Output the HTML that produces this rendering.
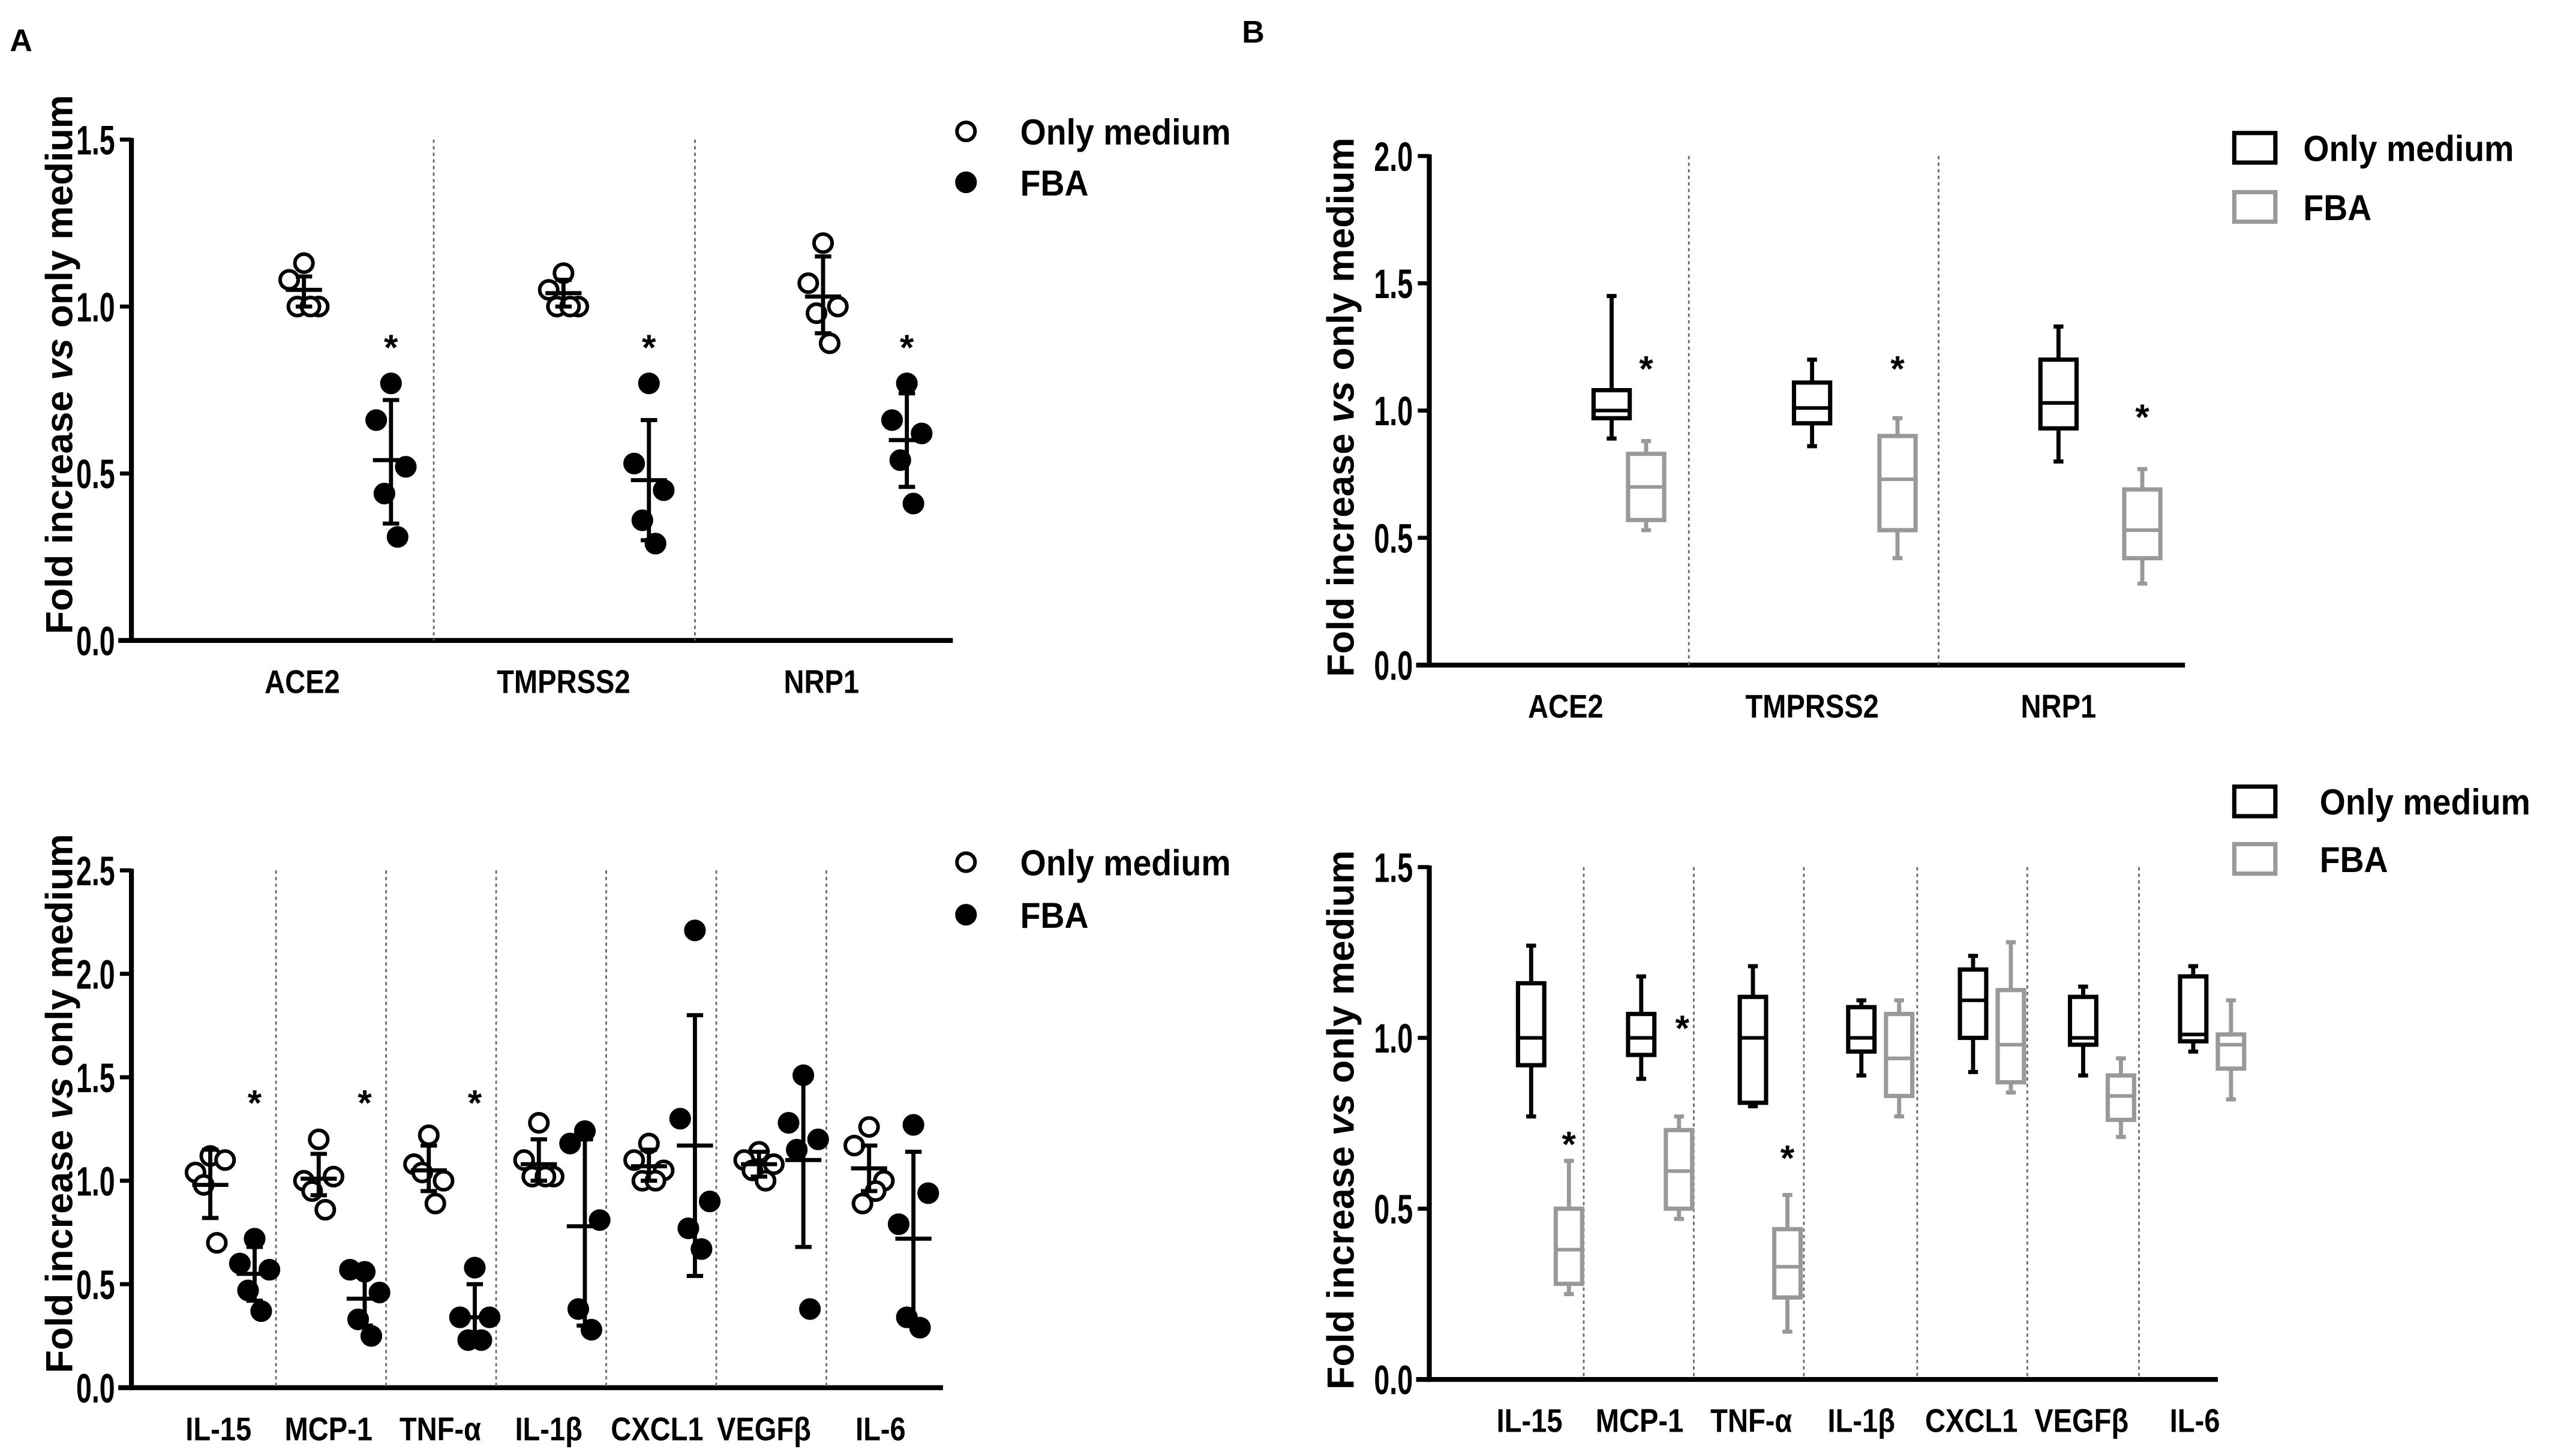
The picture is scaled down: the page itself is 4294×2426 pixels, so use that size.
<!DOCTYPE html>
<html><head><meta charset="utf-8">
<style>
html,body{margin:0;padding:0;background:#fff;}
svg{display:block;}
text{font-family:"Liberation Sans",Arial,sans-serif;font-weight:bold;fill:#000;}
</style></head>
<body>
<svg id="fig" width="4294" height="2426" viewBox="0 0 1568 886" preserveAspectRatio="none" xmlns="http://www.w3.org/2000/svg">
<rect width="1568" height="886" fill="#fff"/>
<text x="6" y="31" font-size="19">A</text>
<text x="756" y="26" font-size="19">B</text>
</svg>
<script>
// ---------- DATA ----------
const catsTop = ["ACE2","TMPRSS2","NRP1"];
const catsBot = ["IL-15","MCP-1","TNF-α","IL-1β","CXCL1","VEGFβ","IL-6"];
// Panel A top (dot plots)
const aTopOpen = [[1.13,1.08,1.0,1.0,1.0],[1.10,1.05,1.0,1.0,1.0],[1.19,1.07,1.0,0.98,0.89]];
const aTopFilled = [[0.77,0.66,0.52,0.44,0.31],[0.77,0.53,0.45,0.36,0.29],[0.77,0.66,0.62,0.54,0.41]];
const aTopOpenMean = [1.05,1.04,1.03];
const aTopOpenErr = [[1.0,1.09],[1.0,1.08],[0.92,1.15]];
const aTopFilledMean = [0.54,0.48,0.60];
const aTopFilledErr = [[0.35,0.72],[0.30,0.66],[0.46,0.74]];
const aTopStar = [true,true,true];
// Panel A bottom
const aBotOpen = [[1.12,1.04,1.10,0.98,0.70],[1.20,1.00,1.02,0.95,0.86],[1.22,1.08,1.00,1.04,0.89],[1.28,1.10,1.02,1.02,1.02],[1.18,1.10,1.05,1.00,1.00],[1.14,1.10,1.08,1.05,1.00],[1.26,1.17,1.00,0.89,0.95]];
const aBotFilled = [[0.72,0.60,0.57,0.47,0.37],[0.56,0.57,0.46,0.33,0.25],[0.58,0.34,0.34,0.23,0.23],[1.24,1.18,0.81,0.38,0.28],[2.21,1.30,0.90,0.77,0.67],[1.51,1.28,1.20,1.15,0.38],[1.27,0.79,0.94,0.34,0.29]];
const aBotOpenMean = [0.98,1.01,1.05,1.08,1.07,1.08,1.06];
const aBotOpenErr = [[0.82,1.15],[0.93,1.13],[0.95,1.17],[1.0,1.2],[1.0,1.15],[1.02,1.14],[0.95,1.17]];
const aBotFilledMean = [0.55,0.43,0.34,0.78,1.17,1.10,0.72];
const aBotFilledErr = [[0.42,0.68],[0.30,0.58],[0.22,0.50],[0.30,1.20],[0.54,1.80],[0.68,1.51],[0.30,1.14]];
const aBotStar = [true,true,true,false,false,false,false];
// Panel B top boxes [min,q1,med,q3,max]
const bTopBlack = [[0.89,0.97,1.0,1.08,1.45],[0.86,0.95,1.01,1.11,1.20],[0.80,0.93,1.03,1.20,1.33]];
const bTopGray = [[0.53,0.57,0.70,0.83,0.88],[0.42,0.53,0.73,0.90,0.97],[0.32,0.42,0.53,0.69,0.77]];
const bTopStarY = [1.18,1.18,0.99];
// Panel B bottom boxes
const bBotBlack = [[0.77,0.92,1.00,1.16,1.27],[0.88,0.95,1.00,1.07,1.18],[0.80,0.81,1.00,1.12,1.21],[0.89,0.96,1.00,1.09,1.11],[0.90,1.00,1.11,1.20,1.24],[0.89,0.98,1.00,1.12,1.15],[0.96,0.99,1.01,1.18,1.21]];
const bBotGray = [[0.25,0.28,0.38,0.50,0.64],[0.47,0.50,0.61,0.73,0.77],[0.14,0.24,0.33,0.44,0.54],[0.77,0.83,0.94,1.07,1.11],[0.84,0.87,0.98,1.14,1.28],[0.71,0.76,0.83,0.89,0.94],[0.82,0.91,0.98,1.01,1.11]];
const bBotStarY = [0.70,1.04,0.66,null,null,null,null];
const bBotStarOn = ["gray","black","gray",null,null,null,null];
const ticksTop = [0,0.5,1.0,1.5];
const ticksTopLbl = ["0.0","0.5","1.0","1.5"];
const ticksABot = [0,0.5,1.0,1.5,2.0,2.5];
const ticksABotLbl = ["0.0","0.5","1.0","1.5","2.0","2.5"];
const ticksBTop = [0,0.5,1.0,1.5,2.0];
const ticksBTopLbl = ["0.0","0.5","1.0","1.5","2.0"];

// ---------- DRAW ----------
const NS="http://www.w3.org/2000/svg";
const svg=document.getElementById('fig');
function mk(tag,attrs,parent){const e=document.createElementNS(NS,tag);for(const k in attrs)e.setAttribute(k,attrs[k]);(parent||svg).appendChild(e);return e;}
function panel(p){
  const g=mk('g',{});
  
  
  const y=v=>p.y0-(v/p.vmax)*(p.y0-p.y1);
  p.yf=y;
  const ya=mk('line',{x1:p.x0,y1:p.y1-1,x2:p.x0,y2:p.y0+1.5,stroke:'#000','stroke-width':3},g);
  
  
  const xa=mk('line',{x1:p.x0-8,y1:p.y0,x2:p.xEnd,y2:p.y0,stroke:'#000','stroke-width':3},g);
  
  
  p.ticks.forEach((t,i)=>{
    mk('line',{x1:p.x0-7,y1:y(t),x2:p.x0,y2:y(t),stroke:'#000','stroke-width':2.5},g);
    const ax=p.x0-10;
    const tx=mk('text',{x:0,y:0,'font-size':25,'text-anchor':'end',transform:`translate(${ax},${y(t)+9}) scale(0.68,1)`},g);
    tx.textContent=p.tickLbl[i];
    
    
  });
  p.dividers.forEach(dx=>{
    const d=mk('line',{x1:dx,y1:p.y1,x2:dx,y2:p.y0,stroke:'#666','stroke-width':1,'stroke-dasharray':'2,2'},g);
    
    
  });
  p.cats.forEach((c,i)=>{
    const t=mk('text',{x:0,y:0,'font-size':20,'text-anchor':'middle',transform:`translate(${p.labelX[i]},${p.y0+32}) scale(0.86,1)`},g);
    t.textContent=c;
    
    
  });
  const yt=mk('text',{x:0,y:0,'font-size':23,'text-anchor':'middle',transform:`translate(${p.titleX},${p.titleY}) rotate(-90)`},g);
  yt.innerHTML='Fold increase <tspan font-style="italic">vs</tspan> only medium';
  
  
  return g;
}
const jit=[0,-9,9,-4,4];
function dots(p,g,vals,means,errs,xs,filled){
  vals.forEach((arr,i)=>{
    const cx=xs[i];
    arr.forEach((v,j)=>{
      const c=mk('circle',{cx:cx+jit[j],cy:p.yf(v),r:5.5,fill:filled?'#000':'#fff',stroke:'#000','stroke-width':2.2},g);
      
      
    });
    const e=errs[i];
    const eb=mk('line',{x1:cx,y1:p.yf(e[0]),x2:cx,y2:p.yf(e[1]),stroke:'#000','stroke-width':2.5},g);
    
    
    [e[0],e[1]].forEach(v=>mk('line',{x1:cx-5,y1:p.yf(v),x2:cx+5,y2:p.yf(v),stroke:'#000','stroke-width':2.5},g));
    const m=mk('line',{x1:cx-11,y1:p.yf(means[i]),x2:cx+11,y2:p.yf(means[i]),stroke:'#000','stroke-width':2.5},g);
    
    
  });
}
function star(g,x,yy){
  const s=mk('text',{x:x,y:yy,'font-size':22,'text-anchor':'middle','font-weight':'normal'},g);
  s.textContent='*';
  
  
}
function boxes(p,g,data,xs,color,w){
  data.forEach((b,i)=>{
    const cx=xs[i];
    const bg=mk('g',{},g);
    
    
    mk('line',{x1:cx,y1:p.yf(b[0]),x2:cx,y2:p.yf(b[4]),stroke:color,'stroke-width':2.5},bg);
    mk('line',{x1:cx-3,y1:p.yf(b[0]),x2:cx+3,y2:p.yf(b[0]),stroke:color,'stroke-width':2.5},bg);
    mk('line',{x1:cx-3,y1:p.yf(b[4]),x2:cx+3,y2:p.yf(b[4]),stroke:color,'stroke-width':2.5},bg);
    mk('rect',{x:cx-w/2,y:p.yf(b[3]),width:w,height:p.yf(b[1])-p.yf(b[3]),fill:'#fff',stroke:color,'stroke-width':2.6},bg);
    mk('line',{x1:cx-w/2,y1:p.yf(b[2]),x2:cx+w/2,y2:p.yf(b[2]),stroke:color,'stroke-width':2.2},bg);
  });
}
function legendText(g,x,y,s){
  const t=mk('text',{x:0,y:0,'font-size':22,transform:`translate(${x},${y}) scale(0.92,1)`},g);t.textContent=s;
  
  
}
function legendDots(x,y1,y2){
  const g=mk('g',{});
  
  
  mk('circle',{cx:x,cy:y1,r:5.5,fill:'#fff',stroke:'#000','stroke-width':2.2},g);
  mk('circle',{cx:x,cy:y2,r:5.5,fill:'#000',stroke:'#000','stroke-width':2.2},g);
  legendText(g,x+33,y1+8,'Only medium');
  legendText(g,x+33,y2+8,'FBA');
}
function legendBoxes(x,y1,y2,tx){
  const g=mk('g',{});
  
  
  mk('rect',{x:x,y:y1-9,width:25,height:18,fill:'#fff',stroke:'#000','stroke-width':2.6},g);
  mk('rect',{x:x,y:y2-9,width:25,height:18,fill:'#fff',stroke:'#999','stroke-width':2.6},g);
  legendText(g,tx,y1+8,'Only medium');
  legendText(g,tx,y2+8,'FBA');
}

// Panel A top
const pAT={name:'panel-a-top-chart',x0:80,xEnd:580,y0:390,y1:85,vmax:1.5,ticks:ticksTop,tickLbl:ticksTopLbl,dividers:[264,423],cats:catsTop,labelX:[184,343,500],titleX:44,titleY:222};
let g=panel(pAT);
dots(pAT,g,aTopOpen,aTopOpenMean,aTopOpenErr,[185,343,501],false);
dots(pAT,g,aTopFilled,aTopFilledMean,aTopFilledErr,[238,395,552],true);
[238,395,552].forEach((x,i)=>{if(aTopStar[i])star(g,x,pAT.yf(0.88)+8);});
legendDots(588,80,111);

// Panel A bottom
const pAB={name:'panel-a-bottom-chart',x0:80,xEnd:574,y0:845,y1:530,vmax:2.5,ticks:ticksABot,tickLbl:ticksABotLbl,dividers:[168,235,302,369,436,503],cats:catsBot,labelX:[133,200,268,334,400,465,536],titleX:44,titleY:672};
g=panel(pAB);
const abo=[128,194,261,328,395,462,529], abf=[155,222,289,356,423,489,556];
dots(pAB,g,aBotOpen,aBotOpenMean,aBotOpenErr,abo,false);
dots(pAB,g,aBotFilled,aBotFilledMean,aBotFilledErr,abf,true);
abf.forEach((x,i)=>{if(aBotStar[i])star(g,x,pAB.yf(1.38)+8);});
legendDots(588,525,557);

// Panel B top
const pBT={name:'panel-b-top-chart',x0:870,xEnd:1330,y0:405,y1:95,vmax:2.0,ticks:ticksBTop,tickLbl:ticksBTopLbl,dividers:[1028,1180],cats:catsTop,labelX:[953,1103,1253],titleX:824,titleY:248};
g=panel(pBT);
boxes(pBT,g,bTopBlack,[981,1103,1253],'#000',22);
boxes(pBT,g,bTopGray,[1002,1155,1304],'#999',22);
[1002,1155,1304].forEach((x,i)=>star(g,x,pBT.yf(bTopStarY[i])+10));
legendBoxes(1360,90,126,1402);

// Panel B bottom
const pBB={name:'panel-b-bottom-chart',x0:870,xEnd:1350,y0:840,y1:528,vmax:1.5,ticks:ticksTop,tickLbl:ticksTopLbl,dividers:[964,1031,1098,1167,1234,1302],cats:catsBot,labelX:[931,998,1066,1133,1200,1267,1336],titleX:824,titleY:682};
g=panel(pBB);
const bbb=[932,999,1067,1133,1201,1268,1335], bbg=[955,1022,1088,1156,1224,1291,1358];
boxes(pBB,g,bBotBlack,bbb,'#000',16);
boxes(pBB,g,bBotGray,bbg,'#999',16);
bBotStarY.forEach((v,i)=>{if(v!==null){const x=bBotStarOn[i]==='gray'?bbg[i]:bbg[i]+2;star(g,x,pBB.yf(v)+10);}});
legendBoxes(1360,488,523,1412);
</script>
</body></html>
